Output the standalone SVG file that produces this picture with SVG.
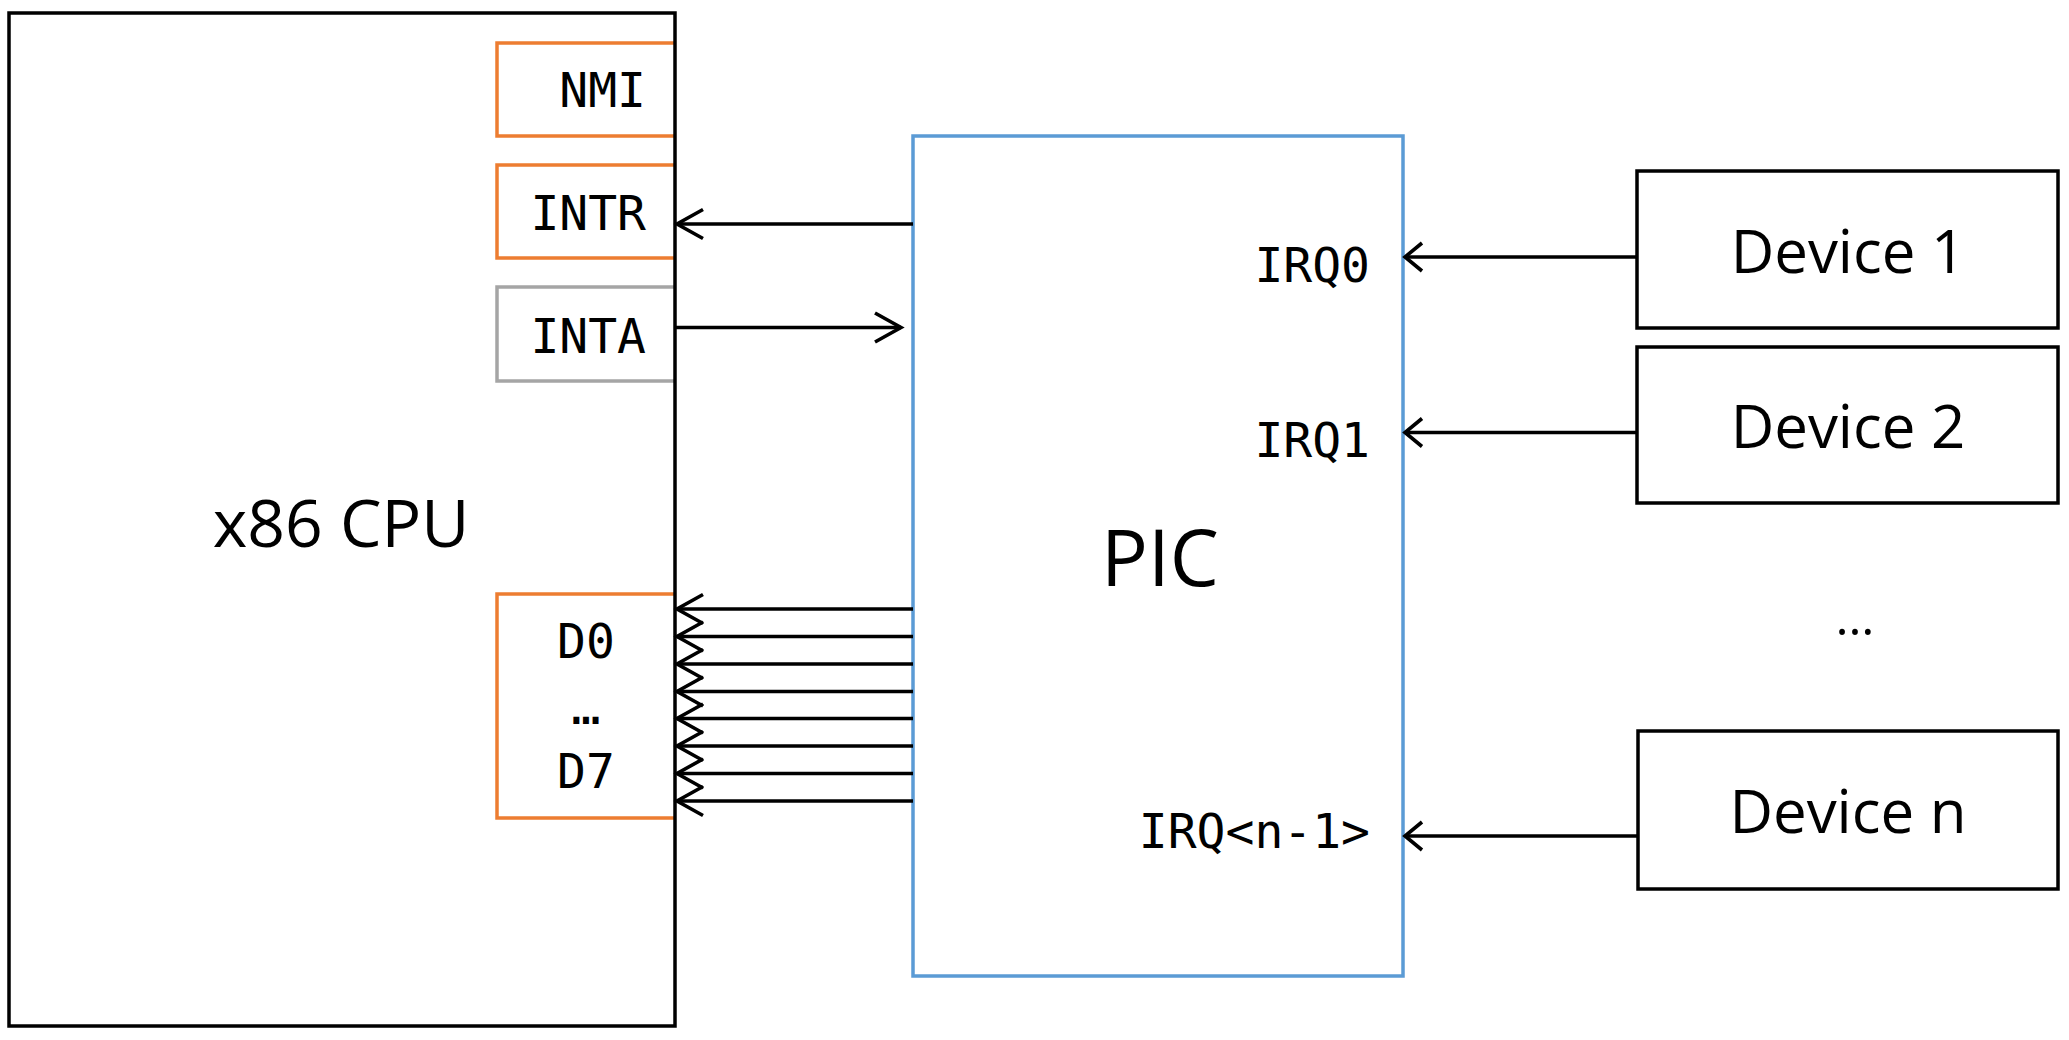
<svg xmlns="http://www.w3.org/2000/svg" width="2069" height="1040" viewBox="0 0 2069 1040">
  <style>
    .blk { fill: #ffffff; stroke: #000000; stroke-width: 3.5; }
    .port-o { fill: none; stroke: #ED7D31; stroke-width: 3.5; }
    .port-g { fill: none; stroke: #A5A5A5; stroke-width: 3.5; }
    .pic { fill: #ffffff; stroke: #5B9BD5; stroke-width: 3.5; }
    .mono { font-family: "DejaVu Sans Mono", "Liberation Mono", monospace; font-size: 48px; fill: #000; }
    .sans { font-family: "Open Sans", "Noto Sans", sans-serif; fill: #000; }
    .wire { stroke: #000; stroke-width: 3.6; fill: none; }
    .head { stroke: #000; stroke-width: 3.6; fill: none; stroke-linejoin: miter; }
  </style>
  <defs>
    <marker id="arrowA" markerUnits="userSpaceOnUse" viewBox="-30 -18 34 36" refX="0" refY="0" markerWidth="34" markerHeight="36" orient="auto" overflow="visible">
      <path class="head" d="M-26,-14.5 L0,0 L-26,14.5"/>
    </marker>
    <marker id="arrowB" markerUnits="userSpaceOnUse" viewBox="-22 -17 26 34" refX="0" refY="0" markerWidth="26" markerHeight="34" orient="auto" overflow="visible">
      <path class="head" d="M-17,-14 L0,0 L-17,14"/>
    </marker>
  </defs>
  <rect x="0" y="0" width="2069" height="1040" fill="#ffffff"/>

  <g id="cpu">
    <rect x="9" y="13" width="666" height="1013" fill="#ffffff" stroke="none"/>
    <text class="sans" x="341" y="547" font-size="66" text-anchor="middle">x86 CPU</text>
  </g>

  <g id="port-nmi">
    <path class="port-o" d="M675,43 H497 V136 H675"/>
    <text class="mono" x="646" y="107" text-anchor="end">NMI</text>
  </g>
  <g id="port-intr">
    <path class="port-o" d="M675,165 H497 V258 H675"/>
    <text class="mono" x="646" y="230" text-anchor="end">INTR</text>
  </g>
  <g id="port-inta">
    <path class="port-g" d="M675,287 H497 V381 H675"/>
    <text class="mono" x="646" y="353" text-anchor="end">INTA</text>
  </g>
  <g id="port-data">
    <path class="port-o" d="M675,594 H497 V818 H675"/>
    <text class="mono" x="586" y="658" text-anchor="middle">D0</text>
    <text class="mono" x="586" y="724" text-anchor="middle">…</text>
    <text class="mono" x="586" y="788" text-anchor="middle">D7</text>
  </g>

  <g id="cpu-border">
    <rect x="9" y="13" width="666" height="1013" fill="none" stroke="#000" stroke-width="3.5"/>
  </g>

  <g id="pic">
    <rect class="pic" x="913" y="136" width="490" height="840"/>
    <text class="sans" x="1160" y="586" font-size="78" text-anchor="middle">PIC</text>
    <text class="mono" x="1370" y="282" text-anchor="end">IRQ0</text>
    <text class="mono" x="1370" y="457" text-anchor="end">IRQ1</text>
    <text class="mono" x="1370" y="848" text-anchor="end">IRQ&lt;n-1&gt;</text>
  </g>

  <g id="device1">
    <rect class="blk" x="1637" y="171" width="421" height="157"/>
    <text class="sans" x="1848" y="273" font-size="60" text-anchor="middle">Device 1</text>
  </g>
  <g id="device2">
    <rect class="blk" x="1637" y="347" width="421" height="156"/>
    <text class="sans" x="1848" y="448" font-size="60" text-anchor="middle">Device 2</text>
  </g>
  <g id="ellipsis">
    <text class="sans" x="1855" y="635" font-size="50" text-anchor="middle">…</text>
  </g>
  <g id="devicen">
    <rect class="blk" x="1638" y="731" width="420" height="158"/>
    <text class="sans" x="1848" y="833" font-size="60" text-anchor="middle">Device n</text>
  </g>

  <g id="connectors">
    <line class="wire" x1="913" y1="224" x2="677" y2="224" marker-end="url(#arrowA)"/>
    <line class="wire" x1="675" y1="327.5" x2="901" y2="327.5" marker-end="url(#arrowA)"/>
    <line class="wire" x1="913" y1="609" x2="677" y2="609" marker-end="url(#arrowA)"/>
    <line class="wire" x1="913" y1="636.5" x2="677" y2="636.5" marker-end="url(#arrowA)"/>
    <line class="wire" x1="913" y1="664" x2="677" y2="664" marker-end="url(#arrowA)"/>
    <line class="wire" x1="913" y1="691.5" x2="677" y2="691.5" marker-end="url(#arrowA)"/>
    <line class="wire" x1="913" y1="718.5" x2="677" y2="718.5" marker-end="url(#arrowA)"/>
    <line class="wire" x1="913" y1="746" x2="677" y2="746" marker-end="url(#arrowA)"/>
    <line class="wire" x1="913" y1="773.5" x2="677" y2="773.5" marker-end="url(#arrowA)"/>
    <line class="wire" x1="913" y1="801" x2="677" y2="801" marker-end="url(#arrowA)"/>
    <line class="wire" x1="1637" y1="257" x2="1405" y2="257" marker-end="url(#arrowB)"/>
    <line class="wire" x1="1637" y1="432.5" x2="1405" y2="432.5" marker-end="url(#arrowB)"/>
    <line class="wire" x1="1638" y1="836" x2="1405" y2="836" marker-end="url(#arrowB)"/>
  </g>
</svg>
